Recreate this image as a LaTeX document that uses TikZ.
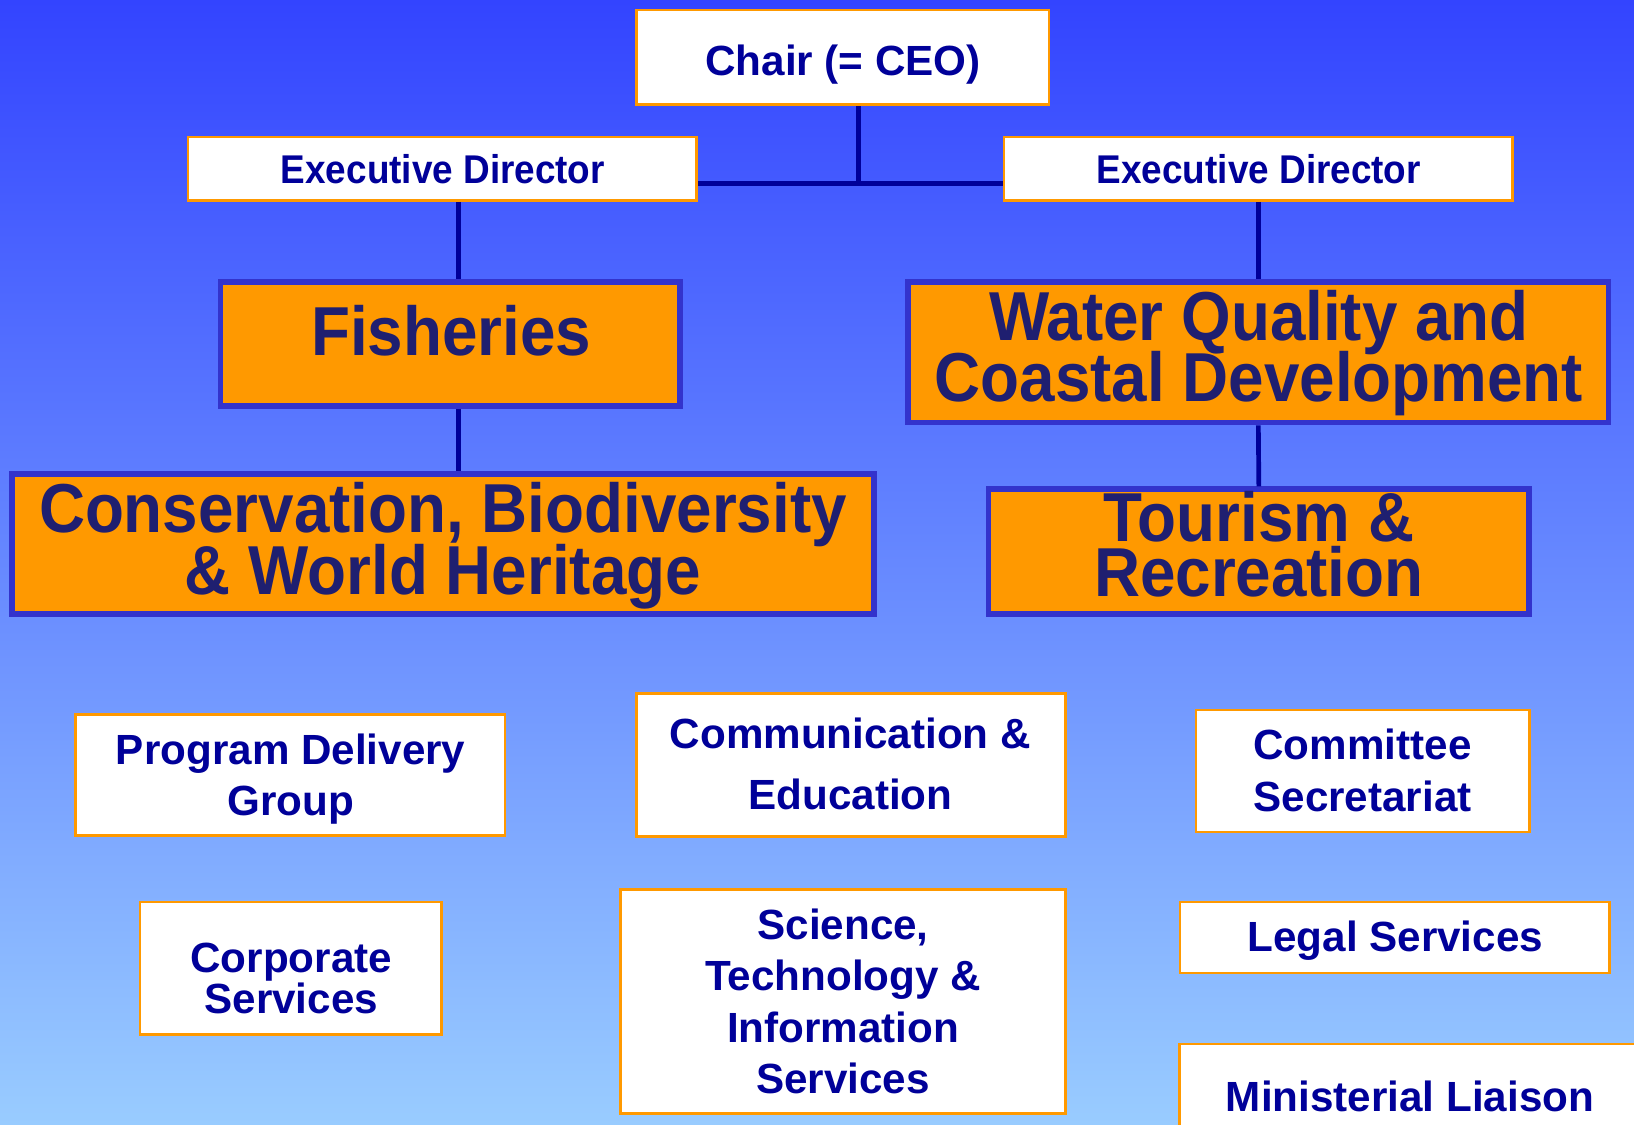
\documentclass[tikz,border=0pt]{standalone}
\usepackage{fontspec}
\setmainfont{Liberation Sans}
\newfontfamily\narrowfont{Liberation Sans}[FakeStretch=0.92]
\usetikzlibrary{positioning,calc}
\newcommand\tightlines{\lineskiplimit=-100pt\relax}

\definecolor{bgtop}{RGB}{51,68,255}
\definecolor{bgbot}{RGB}{153,204,255}
\definecolor{linkc}{RGB}{0,0,153}
\definecolor{wtxt}{RGB}{0,0,153}
\definecolor{wbord}{RGB}{255,153,0}
\definecolor{otxt}{RGB}{31,31,112}
\definecolor{ofill}{RGB}{255,153,0}
\definecolor{obord}{RGB}{51,51,204}

\begin{document}
\begin{tikzpicture}[x=1pt, y=-1pt,
  wbox/.style={draw=wbord, line width=2.5pt, fill=white, inner sep=0pt},
  obox/.style={draw=obord, line width=5.5pt, fill=ofill, inner sep=0pt},
  wtext/.style={text=wtxt, align=center, inner sep=0pt},
  otext/.style={text=otxt, align=center, inner sep=0pt},
  link/.style={draw=linkc, line width=4.5pt}]

  % page and background
  \useasboundingbox (0,0) rectangle (1568,1079);
  \clip (0,0) rectangle (1568,1079);
  \fill[top color=bgtop, bottom color=bgbot] (0,0) rectangle (1568,1079);

  % top of the tree
  \node[wbox, minimum width=396pt, minimum height=91pt] (chair) at (808.5,55) {};
  \node[wtext, font=\bfseries\fontsize{40.5}{48}\selectfont] (chairtxt) at (809,62) {Chair (= CEO)};

  \node[wbox, minimum width=488pt, minimum height=61pt] (execL) at (424.5,162) {};
  \node[wtext, font=\narrowfont\bfseries\fontsize{38.5}{46}\selectfont] (execLtxt) at (425,162.5) {Executive Director};
  \node[wbox, minimum width=488pt, minimum height=61pt] (execR) at (1207.5,162) {};
  \node[wtext, font=\narrowfont\bfseries\fontsize{38.5}{46}\selectfont] (execRtxt) at (1208,162.5) {Executive Director};

  % programs
  \node[obox, minimum width=441pt, minimum height=119pt] (fish) at (432,330) {};
  \node[otext, font=\narrowfont\bfseries\fontsize{66.5}{59}\selectfont] (fishtxt) at (433,317) {Fisheries};

  \node[obox, minimum width=827pt, minimum height=135pt] (cons) at (425,522) {};
  \node[otext, font=\narrowfont\bfseries\fontsize{66.5}{59}\selectfont\tightlines] (constxt) at (425,523.5)
      {Conservation, Biodiversity\\\& World Heritage};

  \node[obox, minimum width=672pt, minimum height=135pt] (water) at (1207.5,338) {};
  \node[otext, font=\narrowfont\bfseries\fontsize{66.5}{58}\selectfont\tightlines] (watertxt) at (1208,339)
      {Water Quality and\\Coastal Development};

  \node[obox, minimum width=519pt, minimum height=120pt] (tour) at (1208,529.5) {};
  \node[otext, font=\narrowfont\bfseries\fontsize{66.5}{53}\selectfont\tightlines] (tourtxt) at (1208,522)
      {Tourism \&\\Recreation};

  % support groups
  \node[wbox, minimum width=412pt, minimum height=116pt] (prog) at (278.5,743.5) {};
  \node[wtext, font=\bfseries\fontsize{40.5}{49}\selectfont] (progtxt) at (279,748)
      {Program Delivery\\Group};

  \node[wbox, minimum width=412pt, minimum height=137pt] (comm) at (816.5,734) {};
  \node[wtext, font=\bfseries\fontsize{40.5}{58}\selectfont] (commtxt) at (816,733)
      {Communication \&\\Education};

  \node[wbox, minimum width=320pt, minimum height=117pt] (comt) at (1307.5,740) {};
  \node[wtext, font=\bfseries\fontsize{40.5}{50}\selectfont] (comttxt) at (1307.5,739)
      {Committee\\Secretariat};

  \node[wbox, minimum width=289pt, minimum height=127pt] (corp) at (279,929) {};
  \node[wtext, font=\bfseries\fontsize{40.5}{40}\selectfont] (corptxt) at (279.5,939)
      {Corporate\\Services};

  \node[wbox, minimum width=427pt, minimum height=215pt] (sci) at (809,961) {};
  \node[wtext, font=\bfseries\fontsize{40.5}{49.5}\selectfont] (scitxt) at (809,961)
      {Science,\\Technology \&\\Information\\Services};

  \node[wbox, minimum width=412pt, minimum height=68pt] (legal) at (1338.5,899.5) {};
  \node[wtext, font=\bfseries\fontsize{40.5}{49}\selectfont] (legaltxt) at (1339,903) {Legal Services};

  \node[wbox, minimum width=467pt, minimum height=107pt] (mini) at (1365.5,1055.5) {};
  \node[wtext, font=\bfseries\fontsize{40.5}{49}\selectfont] (minitxt) at (1353,1052) {Ministerial Liaison};

  % connectors
  \coordinate (junc) at (824,176);
  \coordinate (lspine) at (440,0);
  \draw[link] (chair.south -| junc) -- (junc);
  \draw[link] (execL.east |- junc) -- (execR.west |- junc);
  \draw[link] (execL.south -| lspine) -- (fish.north -| lspine);
  \draw[link] (fish.south -| lspine) -- (cons.north -| lspine);
  \draw[link] (execR.south) -- (water.north);
  \draw[link] (water.south) -- (tour.north);
\end{tikzpicture}
\end{document}
